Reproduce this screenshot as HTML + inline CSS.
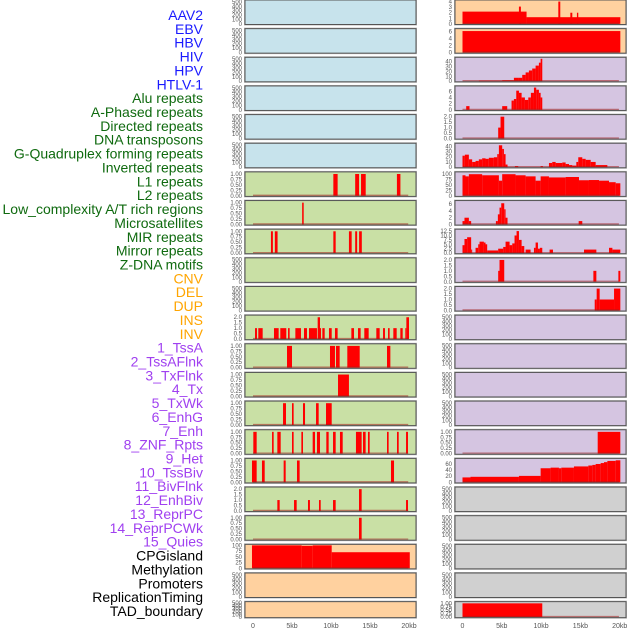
<!DOCTYPE html>
<html><head><meta charset="utf-8">
<style>
body{margin:0;background:#fff;width:630px;height:630px;overflow:hidden;font-family:"Liberation Sans",sans-serif;}
svg{display:block}
</style></head>
<body>
<svg id="chart" width="630" height="630" viewBox="0 0 630 630" xmlns="http://www.w3.org/2000/svg"></svg>
<script>
// ---- track labels ----
const labelNames = ["AAV2","EBV","HBV","HIV","HPV","HTLV-1","Alu repeats","A-Phased repeats","Directed repeats","DNA transposons","G-Quadruplex forming repeats","Inverted repeats","L1 repeats","L2 repeats","Low_complexity A/T rich regions","Microsatellites","MIR repeats","Mirror repeats","Z-DNA motifs","CNV","DEL","DUP","INS","INV","1_TssA","2_TssAFlnk","3_TxFlnk","4_Tx","5_TxWk","6_EnhG","7_Enh","8_ZNF_Rpts","9_Het","10_TssBiv","11_BivFlnk","12_EnhBiv","13_ReprPC","14_ReprPCWk","15_Quies","CPGisland","Methylation","Promoters","ReplicationTiming","TAD_boundary"];
const labelGroups = ["v","v","v","v","v","v","r","r","r","r","r","r","r","r","r","r","r","r","r","s","s","s","s","s","c","c","c","c","c","c","c","c","c","c","c","c","c","c","c","o","o","o","o","o"];
// ---- x axis ----
const xTickValues = [0,5,10,15,20];
const xTickLabels = ["0","5kb","10kb","15kb","20kb"];
// ---- bins: [startKb, endKb, value] ----
const aav2Bins = [[0,8.15,2.2],[7.18,7.43,3.1],[8.15,20.08,1.2],[12.19,12.44,4],[13.72,13.97,2],[14.56,14.73,2]];
const ebvBins = [[0,20.08,6.1]];
const hivBins = [[2.08,3.99,1],[3.99,5.05,1],[5.05,6.54,2],[6.54,7.18,7],[7.18,7.6,7],[7.6,8.03,13],[8.03,8.45,18],[8.45,8.87,22],[8.87,9.3,26],[9.3,9.72,32],[9.72,9.94,38],[9.94,10.15,46]];
const hpvBins = [[0.47,0.89,1.2],[5.05,5.69,1.2],[6.24,6.54,3],[6.54,6.84,3.5],[6.84,7.18,6.2],[7.18,7.52,5.5],[7.52,7.94,4],[7.94,8.37,3.2],[8.37,8.7,4],[8.7,9.09,5.5],[9.09,9.38,7.2],[9.38,9.72,6.5],[9.72,9.94,5.5],[9.94,10.15,4]];
const htlvBins = [[4.54,4.84,1],[4.84,5.31,2]];
const aluBins = [[0,0.3,22],[0.3,0.81,24],[0.81,1.23,15],[1.23,1.66,10],[1.66,2.08,12],[2.08,2.5,15],[2.5,2.93,17],[2.93,3.35,16],[3.35,3.99,18],[3.99,4.42,19],[4.42,4.63,25],[4.63,5.05,42],[5.05,5.27,35],[5.27,5.48,25],[5.48,5.73,5],[6.67,7.09,2],[9.94,10.23,2],[11.0,11.42,8],[11.42,11.85,10],[11.85,12.7,8],[12.7,13.12,9],[13.12,13.55,6],[13.55,13.97,4],[13.97,14.48,3],[14.48,14.73,10],[14.73,15.24,19],[15.24,15.67,16],[15.67,16.31,14],[16.31,16.94,10],[16.94,18.43,4]];
const aPhasedBins = [[0,0.38,95],[0.38,0.81,90],[0.81,2.5,100],[2.5,4.63,95],[4.63,5.05,70],[5.05,6.75,100],[6.75,8.03,95],[8.03,9.3,90],[9.3,9.94,70],[9.94,11.0,90],[11.0,13.12,85],[13.12,14.82,87],[14.82,16.09,72],[16.09,17.37,73],[17.37,18.64,70],[18.64,19.49,63],[19.49,20.08,58]];
const l1Bins = [[10.3,10.85,1],[13.1,13.6,1],[13.85,14.45,1],[18.45,18.9,1]];
const l2LeftBins = [[6.3,6.5,1]];
const l2RightBins = [[0,0.25,1],[0.25,0.81,2],[0.81,1.1,1],[4.25,4.5,1],[4.5,4.71,3],[4.71,4.93,5],[4.93,5.31,6.3],[5.31,5.48,4.5],[5.48,5.73,2],[14.78,15.24,1]];
const lowCxLeftBins = [[2.3,2.55,1],[2.8,3.15,1],[10.3,10.6,1],[12.3,12.65,1],[13.1,13.35,1],[13.6,13.95,1]];
const lowCxRightBins = [[0,0.25,4.5],[0.25,0.59,8],[0.59,1.1,9],[1.1,1.23,2],[1.66,2.0,3],[2.0,2.17,5],[2.17,2.72,6.5],[2.72,2.93,6],[2.93,3.14,5],[3.14,4.54,1.5],[4.54,5.18,2.5],[5.18,5.48,3.5],[5.48,5.99,6.5],[5.99,6.33,4.5],[6.33,6.62,5.5],[6.62,6.88,10],[6.88,7.18,12.5],[7.18,7.52,7.5],[7.52,7.86,4],[8.03,8.66,2],[9.09,9.3,3],[9.3,9.6,6],[9.6,9.85,2.5],[9.85,10.15,3],[11.08,11.51,2],[15.46,17.03,2],[18.64,19.07,3],[19.07,20.08,2]];
const microRightBins = [[4.54,4.71,1],[4.71,5.31,2],[16.65,17.03,1],[19.83,20.08,1]];
const mirRightBins = [[16.82,17.07,1],[17.07,17.45,2],[17.45,19.28,1],[19.28,20.08,2]];
const mirrorLeftBins = [[0.26,0.51,1],[0.68,1.24,1],[2.69,3.29,1],[3.5,4.27,1],[4.49,4.7,1],[5.43,6.15,1],[6.54,6.92,1],[7.18,8.2,1],[8.29,8.59,2],[8.59,8.72,1],[8.89,9.19,1],[9.74,10.09,1],[10.51,10.85,1],[12.61,12.95,1],[13.46,13.8,1],[14.27,14.83,1],[15.81,16.24,1],[16.67,16.92,1],[17.31,17.52,1],[17.99,18.42,1],[18.89,19.19,1],[19.53,19.66,1],[19.66,20.0,2]];
const zdnaLeftBins = [[4.36,5.0,1],[9.87,10.51,1],[10.64,11.11,1],[12.09,13.68,1],[17.18,17.61,1]];
const cnvLeftBins = [[10.9,12.3,1]];
const delLeftBins = [[3.85,4.23,1],[5.0,5.21,1],[6.41,6.67,1],[8.08,8.42,1],[9.36,10.09,1]];
const dupLeftBins = [[0.04,0.47,1],[2.44,2.65,1],[3.12,3.55,1],[5.0,5.21,1],[6.2,6.41,1],[7.65,7.95,1],[8.2,8.59,1],[9.4,9.7,1],[10.26,10.6,1],[11.15,11.5,1],[13.2,13.93,1],[14.1,14.44,1],[14.74,14.96,1],[17.18,17.39,1],[18.46,18.68,1],[19.62,19.87,1]];
const dupRightBins = [[17.2,20.08,1]];
const insLeftBins = [[-0.13,0.47,1],[1.15,1.5,1],[3.93,4.19,1],[5.64,5.98,1],[17.69,18.08,1]];
const insRightBins = [[0,1.02,16],[1.02,7.18,18],[7.18,9.94,21],[9.94,11.21,46],[11.21,12.27,48],[12.27,12.57,46],[12.57,14.18,48],[14.18,16.01,52],[16.01,16.52,55],[16.52,16.94,57],[16.94,17.58,60],[17.58,18.0,63],[18.0,18.43,66],[18.43,19.49,70],[19.49,20.08,72]];
const invLeftBins = [[3.12,3.42,1],[5.26,5.6,1],[7.05,7.3,1],[8.46,8.68,1],[10.26,10.6,1],[13.59,13.93,2],[19.62,19.87,1]];
const tssALeftBins = [[13.59,13.93,1]];
const cpgBins = [[-0.13,6.24,100],[6.24,7.65,98],[7.65,10.09,100],[10.09,20.1,70]];
const tadBins = [[0,10.15,1]];
const emptyBins = [];
// ---- y tick sets ----
const ticksEmpty = [0,100,200,300,400,500];
const ticksUnit = [0,0.25,0.5,0.75,1.0];
const ticksTwo = [0,0.5,1.0,1.5,2.0];
const ticksPct = [0,25,50,75,100];
const ticksAav = [0,1,2,3,4];
const ticksSix = [0,2,4,6];
const ticksForty = [0,10,20,30,40];
const ticksTwelve = [0,2.5,5,7.5,10,12.5];
const ticksSixty = [0,20,40,60];

const BLUE="#c7e3ec",GREEN="#c9e0a5",ORANGE="#ffd19f",PURPLE="#d5c5e1",GRAY="#d0d0d0";
// [row, col, bg, ymax, ticks, decimals, bins]
const panels = [
 [0,0,BLUE,520,ticksEmpty,0,emptyBins],[0,1,ORANGE,4.1,ticksAav,0,aav2Bins],
 [1,0,BLUE,520,ticksEmpty,0,emptyBins],[1,1,ORANGE,6.5,ticksSix,0,ebvBins],
 [2,0,BLUE,520,ticksEmpty,0,emptyBins],[2,1,PURPLE,47,ticksForty,0,hivBins],
 [3,0,BLUE,520,ticksEmpty,0,emptyBins],[3,1,PURPLE,7.4,ticksSix,0,hpvBins],
 [4,0,BLUE,520,ticksEmpty,0,emptyBins],[4,1,PURPLE,2.1,ticksTwo,1,htlvBins],
 [5,0,BLUE,520,ticksEmpty,0,emptyBins],[5,1,PURPLE,44,ticksForty,0,aluBins],
 [6,0,GREEN,1.05,ticksUnit,2,l1Bins],[6,1,PURPLE,106,ticksPct,0,aPhasedBins],
 [7,0,GREEN,1.05,ticksUnit,2,l2LeftBins],[7,1,PURPLE,6.8,ticksSix,0,l2RightBins],
 [8,0,GREEN,1.05,ticksUnit,2,lowCxLeftBins],[8,1,PURPLE,13,ticksTwelve,1,lowCxRightBins],
 [9,0,GREEN,520,ticksEmpty,0,emptyBins],[9,1,PURPLE,2.1,ticksTwo,1,microRightBins],
 [10,0,GREEN,520,ticksEmpty,0,emptyBins],[10,1,PURPLE,2.1,ticksTwo,1,mirRightBins],
 [11,0,GREEN,2.1,ticksTwo,1,mirrorLeftBins],[11,1,PURPLE,520,ticksEmpty,0,emptyBins],
 [12,0,GREEN,1.05,ticksUnit,2,zdnaLeftBins],[12,1,PURPLE,520,ticksEmpty,0,emptyBins],
 [13,0,GREEN,1.05,ticksUnit,2,cnvLeftBins],[13,1,PURPLE,520,ticksEmpty,0,emptyBins],
 [14,0,GREEN,1.05,ticksUnit,2,delLeftBins],[14,1,PURPLE,520,ticksEmpty,0,emptyBins],
 [15,0,GREEN,1.05,ticksUnit,2,dupLeftBins],[15,1,PURPLE,1.05,ticksUnit,2,dupRightBins],
 [16,0,GREEN,1.05,ticksUnit,2,insLeftBins],[16,1,PURPLE,75,ticksSixty,0,insRightBins],
 [17,0,GREEN,2.1,ticksTwo,1,invLeftBins],[17,1,GRAY,520,ticksEmpty,0,emptyBins],
 [18,0,GREEN,1.05,ticksUnit,2,tssALeftBins],[18,1,GRAY,520,ticksEmpty,0,emptyBins],
 [19,0,ORANGE,100,ticksPct,0,cpgBins],[19,1,GRAY,520,ticksEmpty,0,emptyBins],
 [20,0,ORANGE,520,ticksEmpty,0,emptyBins],[20,1,GRAY,520,ticksEmpty,0,emptyBins],
 [21,0,ORANGE,520,ticksEmpty,0,emptyBins],[21,1,GRAY,1.05,ticksUnit,2,tadBins]
];

const NS="http://www.w3.org/2000/svg";
const svg=document.getElementById('chart');
function mk(tag,attrs,parent){const e=document.createElementNS(NS,tag);for(const k in attrs)e.setAttribute(k,attrs[k]);(parent||svg).appendChild(e);return e;}
const colX=[245,455], colW=171, x0=[253,462.5], xPerKb=[7.8,7.86];
function xScale(col,kb){return x0[col]+kb*xPerKb[col];}
function rowTop(r){return r*28.65;}
function rowH(r){return r===21?16:24.5;}
function yScale(r,ymax,v){const t=rowTop(r)+1,b=rowTop(r)+rowH(r)-0.6;return b-(v/ymax)*(b-t);}

// labels
const lblColors={v:"#1a1aff",r:"#0f6a0f",s:"#ffa500",c:"#a040f0",o:"#000"};
labelNames.forEach((n,i)=>{
  const t=mk('text',{x:203,y:15+i*13.86+5,'text-anchor':'end','font-size':'14px',fill:lblColors[labelGroups[i]],'font-family':'Liberation Sans, sans-serif'});
  t.textContent=n;
  
  
});

panels.forEach(p=>{
  const [r,c,bg,ymax,ticks,dec,bins]=p;
  const g=mk('g',{});
  
  
  const top=rowTop(r),h=rowH(r);
  mk('rect',{x:colX[c]-0.5,y:top-0.5,width:colW+1,height:h+1,fill:'none',stroke:'#bbb','stroke-width':1},g);
  const bgr=mk('rect',{x:colX[c],y:top,width:colW,height:h,fill:bg},g);
  
  
  bins.forEach(b=>{
    const xa=Math.max(xScale(c,b[0]),colX[c]),xb=Math.min(xScale(c,b[1]),colX[c]+colW);
    const yv=yScale(r,ymax,b[2]),yb=yScale(r,ymax,0);
    const bar=mk('rect',{x:xa,y:yv,width:Math.max(xb-xa,0.8),height:yb-yv,fill:'#ff0000'},g);
    
    
  });
  if(bins.length){
    const bl=mk('line',{x1:xScale(c,0),x2:xScale(c,19.9),y1:yScale(r,ymax,0)-0.5,y2:yScale(r,ymax,0)-0.5,stroke:'rgba(160,30,30,0.55)','stroke-width':1.3},g);
    
    
  }
  mk('rect',{x:colX[c],y:top,width:colW,height:h,fill:'none',stroke:'#555','stroke-width':1},g);
  ticks.forEach(tv=>{
    if(tv>ymax)return;
    const ty=yScale(r,ymax,tv);
    const t=mk('text',{x:colX[c]-3,y:ty+2,'text-anchor':'end','font-size':'6px',fill:'#555'},g);
    t.textContent=tv.toFixed(dec);
    
    
  });
});

// x axes
[0,1].forEach(c=>{
  xTickValues.forEach((v,i)=>{
    const t=mk('text',{x:xScale(c,v),y:628,'text-anchor':'middle','font-size':'7px',fill:'#555'});
    t.textContent=xTickLabels[i];
    
    
  });
});
</script>
</body></html>
